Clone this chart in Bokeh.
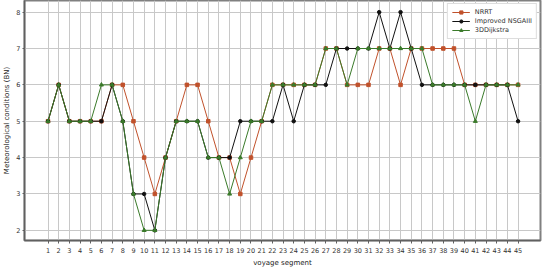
from bokeh.plotting import figure
from bokeh.models import Range1d, FixedTicker, Legend, LegendItem
from bokeh.embed import file_html
from bokeh.resources import INLINE

segments = list(range(1, 46))
nrrt = [5, 6, 5, 5, 5, 5, 6, 6, 5, 4, 3, 4, 5, 6, 6, 5, 4, 4, 3, 4, 5, 6, 6, 6, 6, 6, 7, 7, 6, 6,
        6, 7, 7, 6, 7, 7, 7, 7, 7, 6, 6, 6, 6, 6, 6]
nsga = [5, 6, 5, 5, 5, 5, 6, 5, 3, 3, 2, 4, 5, 5, 5, 4, 4, 4, 5, 5, 5, 5, 6, 5, 6, 6, 6, 7, 7, 7,
        7, 8, 7, 8, 7, 6, 6, 6, 6, 6, 6, 6, 6, 6, 5]
dijkstra = [5, 6, 5, 5, 5, 6, 6, 5, 3, 2, 2, 4, 5, 5, 5, 4, 4, 3, 4, 5, 5, 6, 6, 6, 6, 6, 7, 7, 6, 7,
            7, 7, 7, 7, 7, 7, 6, 6, 6, 6, 5, 6, 6, 6, 6]
y_ticks = [2, 3, 4, 5, 6, 7, 8]
series_names = ["NRRT", "Improved NSGAIII", "3DDijkstra"]

FONT = "DejaVu Sans"

p = figure(frame_width=516, frame_height=240, output_backend="svg", toolbar_location=None,
           x_range=Range1d(-1.2, 47.1), y_range=Range1d(1.72, 8.32),
           min_border_left=4, min_border_right=2, min_border_top=0, min_border_bottom=0)

p.outline_line_color = "#808080"
p.outline_line_width = 2

p.xaxis.ticker = FixedTicker(ticks=segments)
p.yaxis.ticker = FixedTicker(ticks=y_ticks)
p.xgrid.ticker = FixedTicker(ticks=segments)
p.ygrid.ticker = FixedTicker(ticks=y_ticks)
for g in (p.xgrid, p.ygrid):
    g.grid_line_color = "#c8c8c8"
    g.grid_line_width = 1

for ax in (p.xaxis, p.yaxis):
    ax.axis_line_color = "#606060"
    ax.axis_line_width = 1.5
    ax.major_tick_line_color = "#606060"
    ax.minor_tick_line_color = None
    ax.major_label_text_font = FONT
    ax.major_label_text_font_size = "6.5px"
    ax.major_label_text_color = "#333333"
    ax.axis_label_text_font = FONT
    ax.axis_label_text_font_size = "7px"
    ax.axis_label_text_font_style = "normal"
    ax.axis_label_text_color = "#222222"
    ax.major_label_standoff = 2
    ax.axis_label_standoff = 2

p.xaxis.major_tick_out = 3
p.xaxis.major_tick_in = 0
p.yaxis.major_tick_out = 2
p.yaxis.major_tick_in = 0
p.xaxis.major_label_standoff = 4
p.xaxis.axis_label_standoff = 3
p.xaxis.axis_label = "voyage segment"
p.yaxis.axis_label = "Meteorological conditions (BN)"

c_nrrt = "#c0512b"
c_nsga = "#111111"
c_dij = "#3a7a2a"

r1l = p.line(segments, nrrt, line_color=c_nrrt, line_width=1)
r1m = p.scatter(segments, nrrt, marker="square", size=3.5, fill_color=c_nrrt, line_color=c_nrrt)
r2l = p.line(segments, nsga, line_color=c_nsga, line_width=1)
r2m = p.scatter(segments, nsga, marker="circle", size=3.5, fill_color=c_nsga, line_color=c_nsga)
r3l = p.line(segments, dijkstra, line_color=c_dij, line_width=1)
r3m = p.scatter(segments, dijkstra, marker="triangle", size=4, fill_color=c_dij, line_color=c_dij)

legend = Legend(items=[
    LegendItem(label=series_names[0], renderers=[r1l, r1m]),
    LegendItem(label=series_names[1], renderers=[r2l, r2m]),
    LegendItem(label=series_names[2], renderers=[r3l, r3m]),
], location="top_right")
legend.label_text_font = FONT
legend.label_text_font_size = "6.5px"
legend.label_text_color = "#333333"
legend.glyph_height = 8
legend.glyph_width = 18
legend.label_height = 8
legend.spacing = 1
legend.padding = 4
legend.margin = 3
legend.border_line_color = "#bbbbbb"
legend.background_fill_alpha = 1
p.add_layout(legend)

open("out.html", "w").write(file_html(p, INLINE))
